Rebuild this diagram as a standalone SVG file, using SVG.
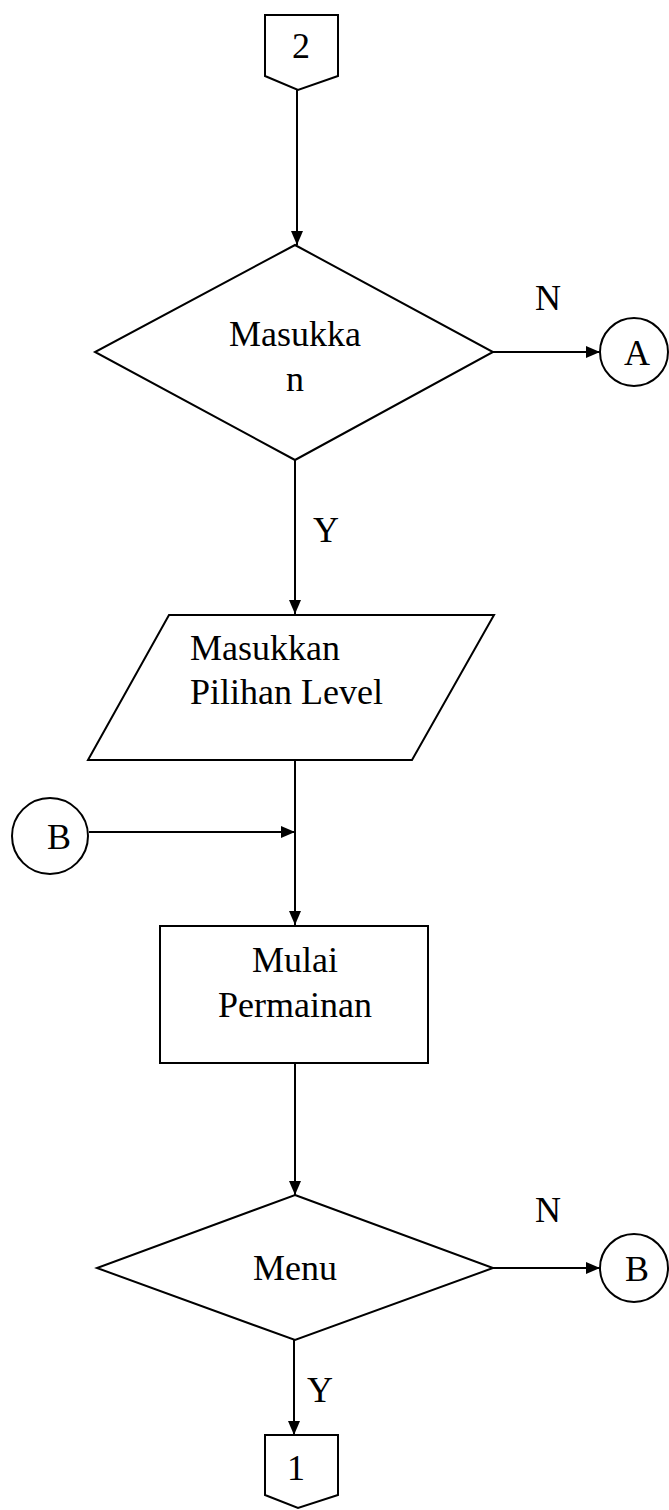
<svg xmlns="http://www.w3.org/2000/svg" width="669" height="1510" viewBox="0 0 669 1510">
<style>
.s{fill:#fff;stroke:#000;stroke-width:2}
.l{fill:none;stroke:#000;stroke-width:2}
text{font-family:"Liberation Serif","Times New Roman",serif;font-size:36px;fill:#000}
.c{text-anchor:middle}
</style>
<defs>
<marker id="ah" markerWidth="14" markerHeight="12" refX="14" refY="6" orient="auto" markerUnits="userSpaceOnUse">
<path d="M0,0 L14,6 L0,12 Z" fill="#000"/>
</marker>
</defs>
<rect width="669" height="1510" fill="#fff"/>
<g id="connectors">
<line class="l" x1="297" y1="90" x2="297" y2="245" marker-end="url(#ah)"/>
<line class="l" x1="493" y1="352" x2="600" y2="352" marker-end="url(#ah)"/>
<line class="l" x1="295" y1="460" x2="295" y2="614" marker-end="url(#ah)"/>
<line class="l" x1="295" y1="760" x2="295" y2="925" marker-end="url(#ah)"/>
<line class="l" x1="89" y1="832" x2="295" y2="832" marker-end="url(#ah)"/>
<line class="l" x1="295" y1="1063" x2="295" y2="1195" marker-end="url(#ah)"/>
<line class="l" x1="493" y1="1268" x2="600" y2="1268" marker-end="url(#ah)"/>
<line class="l" x1="294" y1="1340" x2="294" y2="1435" marker-end="url(#ah)"/>
<text x="548" y="310" class="c">N</text>
<text x="326" y="542" class="c">Y</text>
<text x="548" y="1222" class="c">N</text>
<text x="320" y="1402" class="c">Y</text>
</g>
<g id="off2">
<path class="s" d="M265,15 L338,15 L338,76 L298,90 L265,76 Z"/>
<text x="301" y="58" class="c">2</text>
</g>
<g id="dec1">
<path class="s" d="M295,245 L493,352 L295,460 L95,352 Z"/>
<text x="295" y="346" class="c">Masukka</text>
<text x="295" y="391" class="c">n</text>
</g>
<g id="connA">
<circle class="s" cx="634" cy="352" r="34"/>
<text x="637" y="365" class="c">A</text>
</g>
<g id="input">
<path class="s" d="M169,615 L494,615 L412,760 L88,760 Z"/>
<text x="190" y="660">Masukkan</text>
<text x="190" y="704">Pilihan Level</text>
</g>
<g id="connB1">
<circle class="s" cx="50" cy="836" r="38"/>
<text x="59" y="849" class="c">B</text>
</g>
<g id="process">
<rect class="s" x="160" y="926" width="268" height="137"/>
<text x="295" y="972" class="c">Mulai</text>
<text x="295" y="1017" class="c">Permainan</text>
</g>
<g id="dec2">
<path class="s" d="M295,1195 L493,1268 L295,1340 L97,1268 Z"/>
<text x="295" y="1280" class="c">Menu</text>
</g>
<g id="connB2">
<circle class="s" cx="634" cy="1268" r="34"/>
<text x="637" y="1281" class="c">B</text>
</g>
<g id="off1">
<path class="s" d="M265,1435 L338,1435 L338,1495 L298,1508 L265,1495 Z"/>
<text x="296" y="1480" class="c">1</text>
</g>
</svg>
